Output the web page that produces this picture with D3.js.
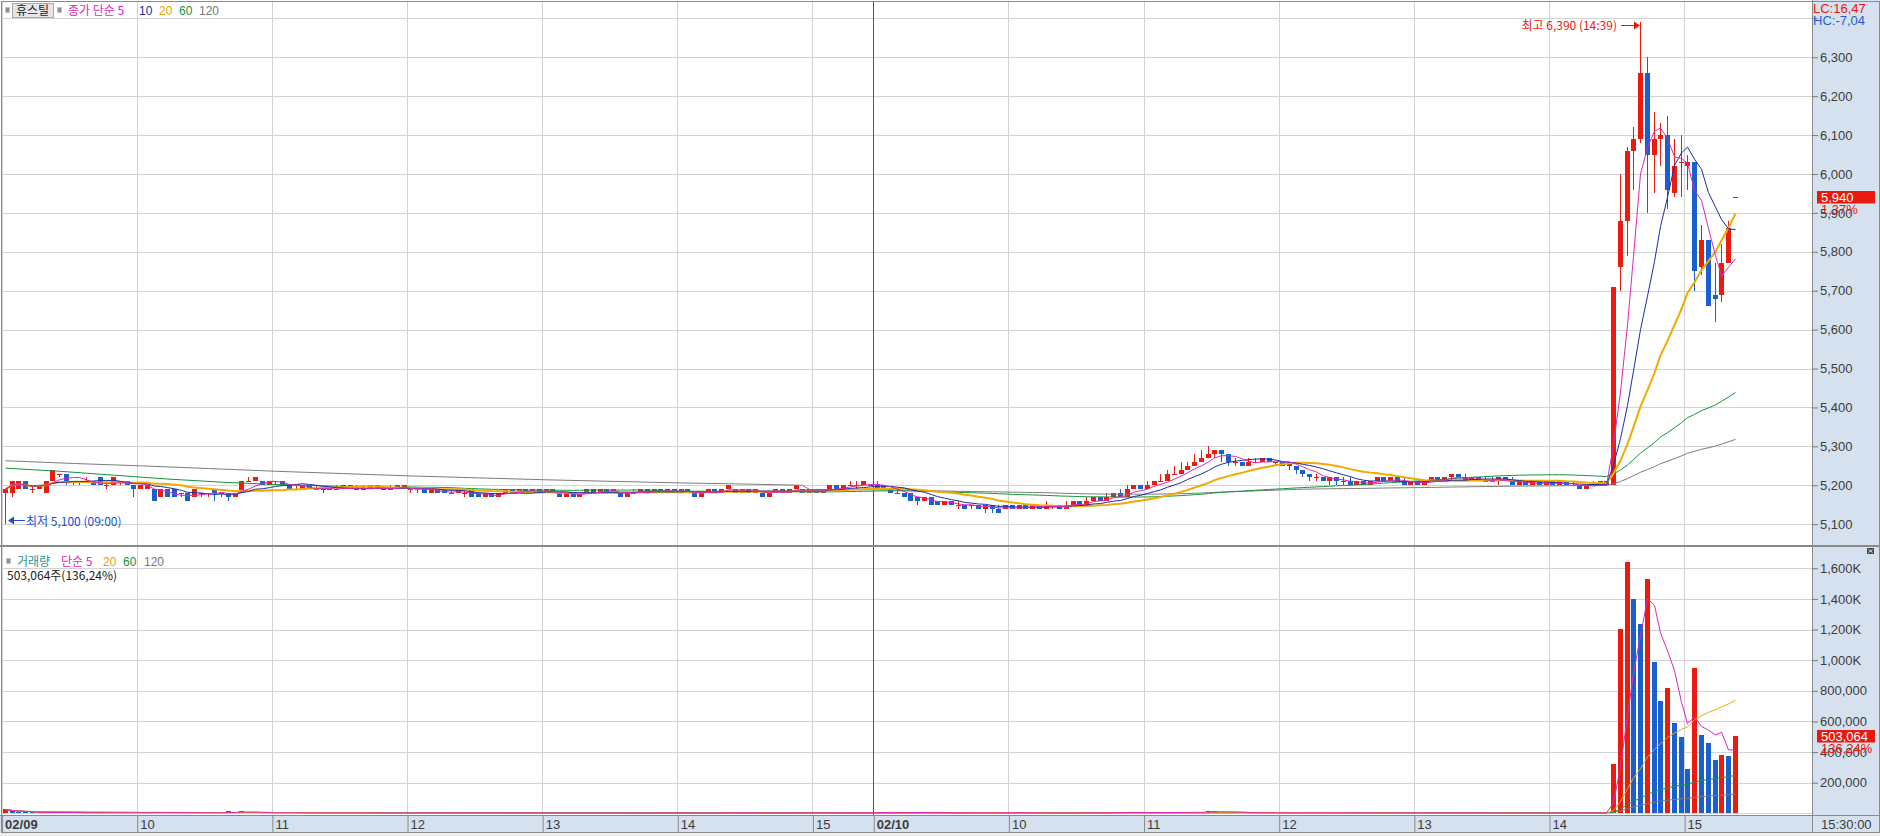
<!DOCTYPE html>
<html><head><meta charset="utf-8">
<script src="https://cdn.jsdelivr.net/npm/d3@7"></script>
<style>
html,body{margin:0;padding:0;background:#fff;}
svg{display:block;}
text{font-family:'Liberation Sans Narrow','Liberation Sans','Noto Sans CJK KR',sans-serif;}
.kr{font-family:'Noto Sans CJK KR','Liberation Sans',sans-serif;}
</style></head><body>
<svg id="c" width="1880" height="836"></svg>
<script>
// ---------------- DATA (3-minute bars, 02/09 and 02/10) ----------------
const days = ["02/09", "02/10"];
const barsPerDay = [129, 128];
const opens = [
5180,5180,5190,5210,5190,5190,5180,5210,5230,5230,5210,5210,5210,5210,5220,5200,5200,5210,5210,5200,
5190,5190,5190,5170,5190,5190,5180,5180,5170,5180,5180,5190,5180,5180,5170,5180,5210,5210,5210,5200,
5210,5210,5200,5190,5190,5200,5190,5190,5190,5190,5190,5200,5190,5190,5200,5190,5190,5190,5200,5190,
5190,5190,5190,5180,5190,5190,5180,5180,5180,5190,5180,5170,5180,5170,5180,5190,5180,5190,5180,5190,
5180,5190,5180,5170,5180,5170,5180,5190,5180,5190,5180,5180,5170,5180,5180,5190,5180,5190,5180,5190,
5180,5190,5180,5170,5180,5190,5180,5190,5190,5180,5190,5180,5180,5170,5180,5190,5180,5190,5190,5180,
5190,5180,5190,5200,5190,5200,5200,5200,5200,
5190,5200,5190,5180,5180,5180,5170,5160,5170,5160,5150,5160,5150,5150,5150,5150,5140,5150,5140,5140,
5150,5140,5150,5140,5150,5140,5150,5150,5140,5150,5160,5150,5160,5170,5160,5170,5180,5170,5190,5200,
5190,5200,5210,5210,5230,5230,5240,5250,5260,5270,5280,5290,5280,5260,5260,5250,5260,5260,5270,5260,
5260,5250,5250,5240,5230,5220,5220,5210,5220,5210,5210,5200,5210,5200,5210,5220,5210,5220,5210,5200,
5210,5200,5210,5220,5210,5220,5230,5220,5210,5220,5210,5210,5210,5220,5210,5200,5210,5200,5210,5200,
5210,5200,5210,5200,5200,5190,5200,5200,5210,
5200,5760,5880,6060,6090,6260,6050,6090,6100,5950,6030,6020,6030,5760,5830,5690,5690,5770,5940];
const highs = [
5190,5210,5210,5210,5200,5200,5210,5240,5230,5230,5210,5210,5220,5210,5220,5210,5220,5210,5210,5200,
5200,5200,5190,5190,5190,5190,5180,5180,5190,5180,5180,5190,5180,5180,5180,5210,5220,5220,5210,5210,
5210,5210,5200,5200,5200,5200,5200,5190,5190,5200,5200,5200,5200,5200,5200,5200,5190,5200,5200,5200,
5190,5190,5190,5190,5190,5190,5190,5190,5190,5190,5180,5180,5180,5180,5190,5190,5190,5190,5190,5190,
5190,5190,5180,5180,5180,5180,5190,5190,5190,5190,5190,5180,5180,5190,5190,5190,5190,5190,5190,5190,
5190,5190,5180,5180,5190,5190,5190,5200,5190,5190,5190,5190,5180,5180,5190,5190,5190,5200,5190,5190,
5190,5190,5200,5200,5200,5210,5210,5210,5200,
5210,5200,5190,5190,5180,5180,5170,5170,5170,5160,5160,5160,5160,5150,5150,5150,5150,5140,5150,5150,
5150,5150,5150,5150,5150,5160,5150,5150,5160,5160,5160,5170,5170,5170,5180,5180,5190,5200,5200,5200,
5210,5210,5230,5240,5250,5260,5260,5280,5290,5300,5290,5280,5270,5270,5260,5270,5270,5270,5270,5260,
5260,5250,5250,5240,5230,5230,5220,5220,5220,5220,5220,5210,5210,5210,5220,5220,5220,5220,5220,5210,
5210,5210,5220,5220,5220,5220,5230,5230,5220,5220,5220,5220,5210,5220,5220,5210,5210,5210,5210,5210,
5210,5210,5210,5210,5200,5200,5210,5210,5210,
5710,6000,6070,6120,6390,6300,6160,6130,6150,6090,6100,6050,6030,5870,5830,5770,5820,5880,5940];
const lows = [
5100,5170,5190,5190,5180,5190,5180,5210,5220,5200,5200,5200,5210,5200,5200,5190,5200,5200,5200,5170,
5190,5190,5160,5170,5170,5170,5170,5160,5170,5170,5170,5160,5170,5160,5170,5180,5210,5210,5200,5200,
5200,5200,5190,5190,5190,5190,5190,5180,5190,5190,5190,5190,5190,5190,5190,5190,5190,5190,5190,5190,
5180,5180,5180,5180,5180,5180,5180,5180,5170,5170,5170,5170,5170,5170,5180,5180,5180,5180,5180,5180,
5180,5180,5170,5170,5170,5170,5180,5180,5180,5180,5180,5170,5170,5180,5180,5180,5180,5180,5180,5180,
5180,5180,5170,5170,5180,5180,5180,5190,5180,5180,5180,5180,5170,5170,5180,5180,5180,5190,5180,5180,
5180,5180,5190,5190,5190,5200,5190,5200,5200,
5190,5190,5180,5180,5170,5160,5150,5160,5150,5150,5150,5150,5140,5140,5140,5140,5130,5130,5130,5140,
5140,5140,5140,5140,5140,5150,5140,5140,5150,5150,5150,5160,5160,5160,5170,5170,5170,5190,5190,5190,
5200,5200,5210,5220,5230,5240,5240,5250,5260,5270,5270,5260,5250,5250,5250,5250,5260,5260,5260,5250,
5250,5240,5230,5220,5210,5210,5210,5200,5200,5200,5200,5200,5200,5200,5210,5210,5210,5210,5200,5200,
5200,5200,5210,5220,5220,5210,5220,5220,5210,5210,5210,5210,5200,5210,5210,5200,5200,5200,5200,5200,
5200,5200,5200,5200,5190,5190,5200,5200,5200,
5200,5700,5790,5960,6080,5900,5950,6020,5910,5940,5940,5960,5700,5740,5660,5620,5670,5770,5940];
const closes = [
5190,5210,5210,5190,5190,5200,5210,5240,5230,5210,5210,5210,5210,5200,5200,5200,5220,5210,5200,5190,
5200,5200,5160,5190,5170,5170,5180,5160,5190,5180,5180,5180,5180,5170,5180,5210,5210,5220,5200,5210,
5210,5200,5190,5190,5200,5190,5190,5190,5190,5190,5200,5190,5190,5190,5190,5200,5190,5190,5190,5200,
5190,5190,5180,5190,5180,5180,5180,5190,5180,5170,5170,5180,5170,5180,5190,5180,5190,5180,5190,5180,
5190,5180,5170,5180,5170,5180,5190,5180,5190,5180,5190,5170,5180,5180,5190,5180,5190,5180,5190,5180,
5190,5180,5170,5180,5190,5180,5190,5200,5180,5190,5180,5190,5170,5180,5190,5180,5190,5200,5180,5190,
5180,5190,5200,5190,5200,5200,5200,5210,5200,
5200,5190,5180,5180,5170,5160,5160,5170,5150,5150,5160,5150,5150,5140,5150,5140,5150,5140,5130,5150,
5140,5150,5140,5150,5140,5150,5150,5140,5150,5160,5150,5160,5170,5160,5170,5180,5170,5190,5200,5190,
5200,5210,5210,5230,5230,5240,5250,5260,5270,5280,5290,5280,5260,5260,5250,5260,5260,5270,5260,5260,
5250,5260,5240,5230,5220,5220,5210,5220,5210,5210,5200,5210,5200,5210,5220,5210,5220,5210,5200,5210,
5200,5210,5220,5210,5220,5230,5220,5210,5220,5210,5210,5210,5220,5210,5200,5210,5200,5210,5200,5210,
5200,5210,5200,5200,5190,5200,5200,5210,5200,
5710,5880,6060,6090,6260,6050,6090,6100,5960,6020,6030,6030,5750,5830,5660,5680,5770,5860,5940];
const volumes = [
25000,12000,8000,6000,3000,5000,6000,10000,3000,6000,2000,2000,3000,4000,5000,2000,5000,2000,3000,6000,
3000,3000,8000,5000,5000,4000,2000,6000,4000,2000,2000,4000,2000,12000,10000,14000,3000,4000,2000,3000,
2000,3000,4000,2000,2000,2000,2000,2000,1000,2000,3000,2000,2000,1000,3000,3000,1000,2000,3000,3000,
2000,2000,3000,3000,2000,3000,2000,3000,2000,3000,2000,2000,2000,2000,3000,2000,2000,2000,2000,2000,
2000,2000,2000,2000,2000,2000,2000,2000,2000,2000,2000,2000,2000,2000,2000,2000,2000,2000,3000,2000,
2000,2000,2000,2000,2000,2000,3000,8000,2000,2000,2000,2000,2000,2000,2000,2000,2000,6000,2000,2000,
2000,2000,6000,2000,6000,3000,3000,4000,3000,
10000,8000,4000,3000,4000,8000,6000,8000,5000,4000,3000,3000,4000,3000,3000,3000,2000,4000,4000,8000,
3000,3000,3000,2000,2000,2000,2000,2000,2000,3000,2000,3000,4000,3000,4000,8000,6000,5000,8000,3000,
4000,8000,3000,8000,4000,5000,9000,5000,8000,12000,16000,8000,6000,5000,4000,3000,3000,4000,3000,2000,
3000,2000,3000,4000,4000,3000,3000,2000,3000,3000,3000,2000,2000,2000,2000,3000,2000,2000,2000,3000,
2000,2000,2000,3000,2000,2000,4000,3000,2000,2000,2000,2000,2000,2000,2000,2000,2000,2000,2000,2000,
2000,2000,2000,2000,3000,2000,2000,3000,4000,
322000,1204000,1641000,1399000,1236000,1530000,988000,733000,818000,590000,499000,290000,949000,512000,459000,348000,381000,374000,503064];
// long moving averages before a full window exists
const ma60Early = [[0,5244],[8,5236],[16,5226],[24,5216],[32,5208],[40,5202],[50,5197],[58,5194]];
const ma120Early = [[0,5263],[10,5256],[20,5250],[30,5243],[40,5236],[50,5230],[60,5224],[70,5219],[80,5214],[90,5210],[100,5206],[110,5203],[118,5200]];
const priceTicks = [5100,5200,5300,5400,5500,5600,5700,5800,5900,6000,6100,6200,6300];
const volTicks = [200000,400000,600000,800000,1000000,1200000,1400000,1600000];
const stockName = "휴스틸";
const lastPrice = 5940, lastPct = "1,37%", lastVol = "503,064", lastVolPct = "136,24%";

// ---------------- LAYOUT ----------------
const W = 1880, H = 836, AX = 1812;
const P_TOP = 2, P_BOT = 545, V_TOP = 545, V_BOT = 815, B_BOT = 832;
const C_UP = "#ec1b10", C_DN = "#1a5fcf";
const COL = {ma5:"#e025bd", ma10:"#1a2ea8", ma20:"#f2a900", ma60:"#16943a", ma120:"#7c7c7c"};

const times = [];
days.forEach((d, k) => { for (let j = 0; j < barsPerDay[k]; j++) { const m = 540 + 3 * j; times.push({day: d, hh: Math.floor(m / 60), mm: m % 60, first: j === 0}); } });
const N = closes.length;

const svg = d3.select("#c");
const x = d3.scaleLinear().domain([0, 268]).range([1.6, 1812.5]);
const cx = i => Math.round(x(i + 0.5));
const yP = d3.scaleLinear().domain([5046.5, 6442]).range([P_BOT, P_TOP]);
const yV = d3.scaleLinear().domain([-11000, 1752000]).range([V_BOT, V_TOP]);
const px = v => Math.round(v) + 0.5;

// backgrounds
svg.append("rect").attr("x", 0).attr("y", 0).attr("width", W).attr("height", H).attr("fill", "#fff");
svg.append("rect").attr("x", AX).attr("y", 0).attr("width", W - AX).attr("height", B_BOT).attr("fill", "#d6e1ef");
svg.append("rect").attr("x", 0).attr("y", V_BOT).attr("width", W).attr("height", B_BOT - V_BOT).attr("fill", "#d6e1ef");
svg.append("rect").attr("x", 0).attr("y", B_BOT).attr("width", W).attr("height", H - B_BOT).attr("fill", "#ededed");

// grid
const tickIdx = d3.range(N).filter(i => times[i].mm === 0);
const grid = svg.append("g").attr("stroke", "#d3d3d3").attr("stroke-width", 1);
grid.selectAll(".gv").data(tickIdx).join("line").attr("x1", i => px(x(i))).attr("x2", i => px(x(i))).attr("y1", P_TOP).attr("y2", V_BOT);
grid.selectAll(".gp").data(d3.range(5100, 6401, 100)).join("line").attr("x1", 2).attr("x2", AX).attr("y1", d => px(yP(d))).attr("y2", d => px(yP(d)));
grid.selectAll(".gw").data([0].concat(volTicks)).join("line").attr("x1", 2).attr("x2", AX).attr("y1", d => px(yV(d))).attr("y2", d => px(yV(d)));

// day separator
const dayStart = d3.range(N).filter(i => times[i].first && i > 0);
svg.selectAll(".dsep").data(dayStart).join("line").attr("x1", i => px(x(i))).attr("x2", i => px(x(i))).attr("y1", P_TOP).attr("y2", V_BOT).attr("stroke", "#e8190e").attr("stroke-width", 1);

// moving averages
function sma(arr, n) { return arr.map((_, i) => { const s = Math.max(0, i - n + 1); return d3.mean(arr.slice(s, i + 1)); }); }
function smaFull(arr, n) { return arr.map((_, i) => i >= n - 1 ? d3.mean(arr.slice(i - n + 1, i + 1)) : null); }
const lineP = d3.line().x(d => cx(d[0]) + 0.5).y(d => yP(d[1]));
const lineV = d3.line().x(d => cx(d[0]) + 0.5).y(d => yV(d[1]));
const ma120P = ma120Early.concat(smaFull(closes, 120).map((v, i) => [i, v]).filter(d => d[1] !== null));
const ma60P = ma60Early.concat(smaFull(closes, 60).map((v, i) => [i, v]).filter(d => d[1] !== null));
const gP = svg.append("g");

// candles
const cg = gP.append("g").attr("shape-rendering", "crispEdges");
const colr = i => closes[i] >= opens[i] ? C_UP : C_DN;
cg.selectAll(".wk").data(d3.range(N)).join("rect")
  .attr("x", i => cx(i)).attr("width", 1)
  .attr("y", i => Math.round(yP(highs[i])))
  .attr("height", i => Math.max(1, Math.round(yP(lows[i])) - Math.round(yP(highs[i]))))
  .attr("fill", colr);
cg.selectAll(".bd").data(d3.range(N)).join("rect")
  .attr("x", i => cx(i) - 2).attr("width", 5)
  .attr("y", i => Math.round(yP(Math.max(opens[i], closes[i]))))
  .attr("height", i => Math.max(1, Math.round(yP(Math.min(opens[i], closes[i]))) - Math.round(yP(Math.max(opens[i], closes[i])))))
  .attr("fill", colr);

const maLines = [
  {d: ma120P, c: COL.ma120, w: 1},
  {d: ma60P, c: COL.ma60, w: 1},
  {d: sma(closes, 20).map((v, i) => [i, v]), c: COL.ma20, w: 2},
  {d: sma(closes, 10).map((v, i) => [i, v]), c: COL.ma10, w: 1},
  {d: sma(closes, 5).map((v, i) => [i, v]), c: COL.ma5, w: 1}
];
gP.selectAll(".ma").data(maLines).join("path").attr("d", m => lineP(m.d)).attr("fill", "none").attr("stroke", m => m.c).attr("stroke-width", m => m.w);

// volume bars (red when volume rises vs. previous bar)
const vcol = i => (i === 0 || volumes[i] > volumes[i - 1]) ? C_UP : C_DN;
svg.append("g").attr("shape-rendering", "crispEdges").selectAll("rect").data(d3.range(N)).join("rect")
  .attr("x", i => cx(i) - 2).attr("width", 5)
  .attr("y", i => Math.min(Math.round(yV(volumes[i])), Math.round(yV(0)) - 1))
  .attr("height", i => Math.max(1, Math.round(yV(0)) - Math.round(yV(volumes[i]))))
  .attr("fill", vcol);
const vMAs = [
  {n: 120, c: COL.ma120}, {n: 60, c: COL.ma60}, {n: 20, c: COL.ma20}, {n: 5, c: COL.ma5}
];
svg.append("g").selectAll("path").data(vMAs).join("path")
  .attr("d", m => lineV(sma(volumes, m.n).map((v, i) => [i, v])))
  .attr("fill", "none").attr("stroke", m => m.c).attr("stroke-width", 1);

// borders
const bd = svg.append("g").attr("stroke", "#8a8a8a").attr("fill", "none").attr("shape-rendering", "crispEdges");
bd.append("rect").attr("x", 1).attr("y", 1).attr("width", W - 2).attr("height", B_BOT - 1);
bd.append("line").attr("x1", AX + 0.5).attr("x2", AX + 0.5).attr("y1", 0).attr("y2", B_BOT);
bd.append("line").attr("x1", 0).attr("x2", W).attr("y1", P_BOT + 0.5).attr("y2", P_BOT + 0.5).attr("stroke-width", 2);
bd.append("line").attr("x1", 0).attr("x2", W).attr("y1", V_BOT + 0.5).attr("y2", V_BOT + 0.5);

// price axis
const axP = svg.append("g").attr("transform", `translate(${AX},0)`);
axP.call(d3.axisRight(yP).tickValues(d3.range(5060, 6441, 20).filter(v => v % 100 !== 0)).tickSize(3).tickFormat(""));
axP.call(d3.axisRight(yP).tickValues(priceTicks.concat([6400])).tickSize(6).tickPadding(2).tickFormat(d => d === 6400 ? "" : d3.format(",")(d)));
axP.selectAll(".domain").remove();
axP.selectAll("line").attr("stroke", "#7a7a7a");
axP.selectAll("text").attr("font-size", 13).attr("fill", "#3c3c3c").attr("font-family", null);

// volume axis
const axV = svg.append("g").attr("transform", `translate(${AX},0)`);
axV.call(d3.axisRight(yV).tickValues(d3.range(40000, 1740001, 40000).filter(v => v % 200000 !== 0)).tickSize(3).tickFormat(""));
axV.call(d3.axisRight(yV).tickValues(volTicks).tickSize(6).tickPadding(2).tickFormat(v => v >= 1000000 ? d3.format(",")(v / 1000) + "K" : d3.format(",")(v)));
axV.selectAll(".domain").remove();
axV.selectAll("line").attr("stroke", "#7a7a7a");
axV.selectAll("text").attr("font-size", 13).attr("fill", "#3c3c3c");

// time axis
const axT = svg.append("g").attr("transform", `translate(0,${V_BOT})`);
axT.call(d3.axisBottom(x).tickValues(tickIdx).tickSize(B_BOT - V_BOT).tickFormat(i => times[i].first ? times[i].day : String(times[i].hh)));
axT.selectAll(".domain").remove();
axT.selectAll("line").attr("stroke", "#8a8a8a").attr("transform", "translate(0.5,0)");
axT.selectAll("text").attr("font-size", 13).attr("fill", "#3c3c3c").attr("text-anchor", "start").attr("x", 3).attr("y", 14).attr("dy", null)
  .attr("font-weight", i => times[i].first ? "bold" : null);
svg.append("text").attr("x", 1821).attr("y", 829).attr("font-size", 13).attr("fill", "#3c3c3c").text("15:30:00");

// last value badges
function badge(y, val, pct) {
  svg.append("rect").attr("x", 1817).attr("y", y - 6).attr("width", 58).attr("height", 12.5).attr("fill", "#e8190e");
  svg.append("text").attr("x", 1821).attr("y", y + 5).attr("font-size", 13).attr("fill", "#fff").text(val);
  svg.append("text").attr("x", 1821).attr("y", y + 17).attr("font-size", 13).attr("fill", "#e8190e").text(pct);
}
badge(Math.round(yP(lastPrice)), d3.format(",")(lastPrice), lastPct);
badge(Math.round(yV(volumes[N - 1])), lastVol, lastVolPct);
svg.append("text").attr("x", 1813).attr("y", 13).attr("font-size", 13).attr("fill", "#e8190e").text("LC:16,47");
svg.append("text").attr("x", 1813).attr("y", 25).attr("font-size", 13).attr("fill", "#1a5fcf").text("HC:-7,04");
svg.append("rect").attr("x", 1867).attr("y", 548).attr("width", 7).attr("height", 6).attr("fill", "#4a4a4a");
svg.append("path").attr("d", "M1868.5,549.5 L1872.5,552.5 M1872.5,549.5 L1868.5,552.5").attr("stroke", "#fff").attr("stroke-width", 0.8);

// legends
function icon(xx, yy) { svg.append("rect").attr("x", xx + 0.5).attr("y", yy + 0.5).attr("width", 4).attr("height", 5).attr("fill", "#8f8f8f").attr("stroke", "#c4c4c4"); }
icon(5, 7);
svg.append("rect").attr("x", 12.5).attr("y", 3.5).attr("width", 41).attr("height", 14).attr("fill", "#e6e6e6").attr("stroke", "#a9a9a9");
svg.append("text").attr("class", "kr").attr("x", 16).attr("y", 15).attr("font-size", 12).attr("fill", "#222").text(stockName);
icon(57, 7);
const legP = [["종가 단순 5", 68, COL.ma5, true], ["10", 139, COL.ma10], ["20", 159, "#f0a000"], ["60", 179, COL.ma60], ["120", 199, "#777"]];
legP.forEach(l => svg.append("text").attr("class", l[3] ? "kr" : null).attr("x", l[1]).attr("y", 15).attr("font-size", 12).attr("fill", l[2]).text(l[0]));
icon(6, 558);
const legV = [["거래량", 17, "#2b9292", true], ["단순 5", 61, COL.ma5, true], ["20", 103, "#f0a000"], ["60", 123, COL.ma60], ["120", 144, "#777"]];
legV.forEach(l => svg.append("text").attr("class", l[3] ? "kr" : null).attr("x", l[1]).attr("y", 566).attr("font-size", 12).attr("fill", l[2]).text(l[0]));
svg.append("text").attr("class", "kr").attr("x", 7).attr("y", 580).attr("font-size", 12).attr("fill", "#222").text(lastVol + "주(" + lastVolPct + ")");

// high / low annotations
const iHi = d3.maxIndex(highs), iLo = d3.minIndex(lows);
const fmtT = i => String(times[i].hh).padStart(2, "0") + ":" + String(times[i].mm).padStart(2, "0");
const hx = cx(iHi), hy = Math.round(yP(highs[iHi])) + 3.5;
svg.append("line").attr("x1", hx - 19).attr("x2", hx - 5).attr("y1", hy).attr("y2", hy).attr("stroke", "#e8190e");
svg.append("path").attr("d", `M${hx - 6},${hy - 4} L${hx},${hy} L${hx - 6},${hy + 4} Z`).attr("fill", "#e8190e");
svg.append("text").attr("class", "kr").attr("x", hx - 23).attr("y", hy + 4).attr("text-anchor", "end").attr("font-size", 12).attr("fill", "#e8190e")
  .text("최고 " + d3.format(",")(highs[iHi]) + " (" + fmtT(iHi) + ")");
const lx = cx(iLo) + 3, ly = Math.round(yP(lows[iLo])) - 3.5;
svg.append("line").attr("x1", lx + 5).attr("x2", lx + 17).attr("y1", ly).attr("y2", ly).attr("stroke", "#1a4fd0");
svg.append("path").attr("d", `M${lx},${ly} L${lx + 6},${ly - 4} L${lx + 6},${ly + 4} Z`).attr("fill", "#1a4fd0");
svg.append("text").attr("class", "kr").attr("x", lx + 18).attr("y", ly + 5).attr("font-size", 12).attr("fill", "#1a4fd0")
  .text("최저 " + d3.format(",")(lows[iLo]) + " (" + fmtT(iLo) + ")");
</script>
</body></html>
